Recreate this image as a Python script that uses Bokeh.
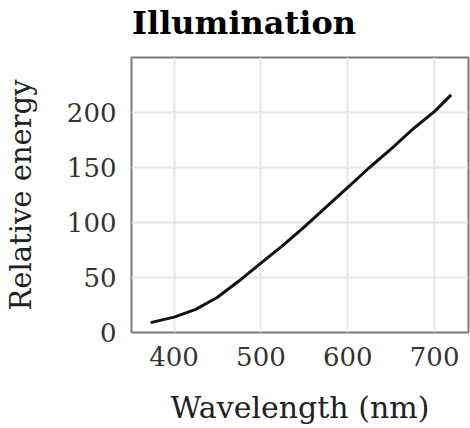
from bokeh.plotting import figure
from bokeh.models import Range1d, FixedTicker, Div
from bokeh.layouts import column
from bokeh.embed import file_html
from bokeh.resources import INLINE

# Data
wavelength = [373, 400, 425, 450, 475, 500, 525, 550, 575, 600, 625, 650, 675, 700, 719]
energy = [9, 14, 21, 32, 47, 63, 79, 96, 114, 132, 150, 167, 185, 201, 216]
x_ticks = [400, 500, 600, 700]
y_ticks = [0, 50, 100, 150, 200]

title_text = "Illumination"
x_label = "Wavelength (nm)"
y_label = "Relative energy"

SERIF = "DejaVu Serif"

title_div = Div(
    text=('<div style="padding:7px 0 0 132px; font-family:\'DejaVu Serif\'; '
          'font-size:32px; font-weight:bold; line-height:32px; color:#000000; '
          'white-space:nowrap;">' + title_text + '</div>'),
    width=470, height=45, margin=0)

p = figure(width=470, height=383, output_backend="svg", toolbar_location=None,
           x_range=Range1d(351, 739), y_range=Range1d(0, 250),
           min_border_left=131, min_border_right=2, min_border_top=12, min_border_bottom=96,
           background_fill_color="white", border_fill_color="white", margin=0)

p.outline_line_color = "#7a7a7a"
p.outline_line_width = 2

for ax in (p.xaxis[0], p.yaxis[0]):
    ax.axis_line_color = None
    ax.major_tick_line_color = None
    ax.minor_tick_line_color = None
    ax.major_label_text_font = SERIF
    ax.major_label_text_font_size = "26px"
    ax.major_label_text_color = "#333333"
    ax.axis_label_text_font = SERIF
    ax.axis_label_text_font_style = "normal"
    ax.axis_label_text_color = "#222222"

p.xaxis.axis_label_text_font_size = "30px"
p.yaxis.axis_label_text_font_size = "29px"
p.xaxis.ticker = FixedTicker(ticks=x_ticks)
p.yaxis.ticker = FixedTicker(ticks=y_ticks)
p.xaxis.axis_label = x_label
p.yaxis.axis_label = y_label
p.xaxis.major_label_standoff = 8
p.yaxis.major_label_standoff = 9
p.xaxis.axis_label_standoff = 21
p.yaxis.axis_label_standoff = 26

p.grid.grid_line_color = "#e6e6e6"
p.grid.grid_line_width = 2

p.line(wavelength, energy, line_color="#111111", line_width=3, line_join="round")

layout = column(title_div, p, spacing=0)

open("out.html", "w").write(file_html(layout, INLINE))
